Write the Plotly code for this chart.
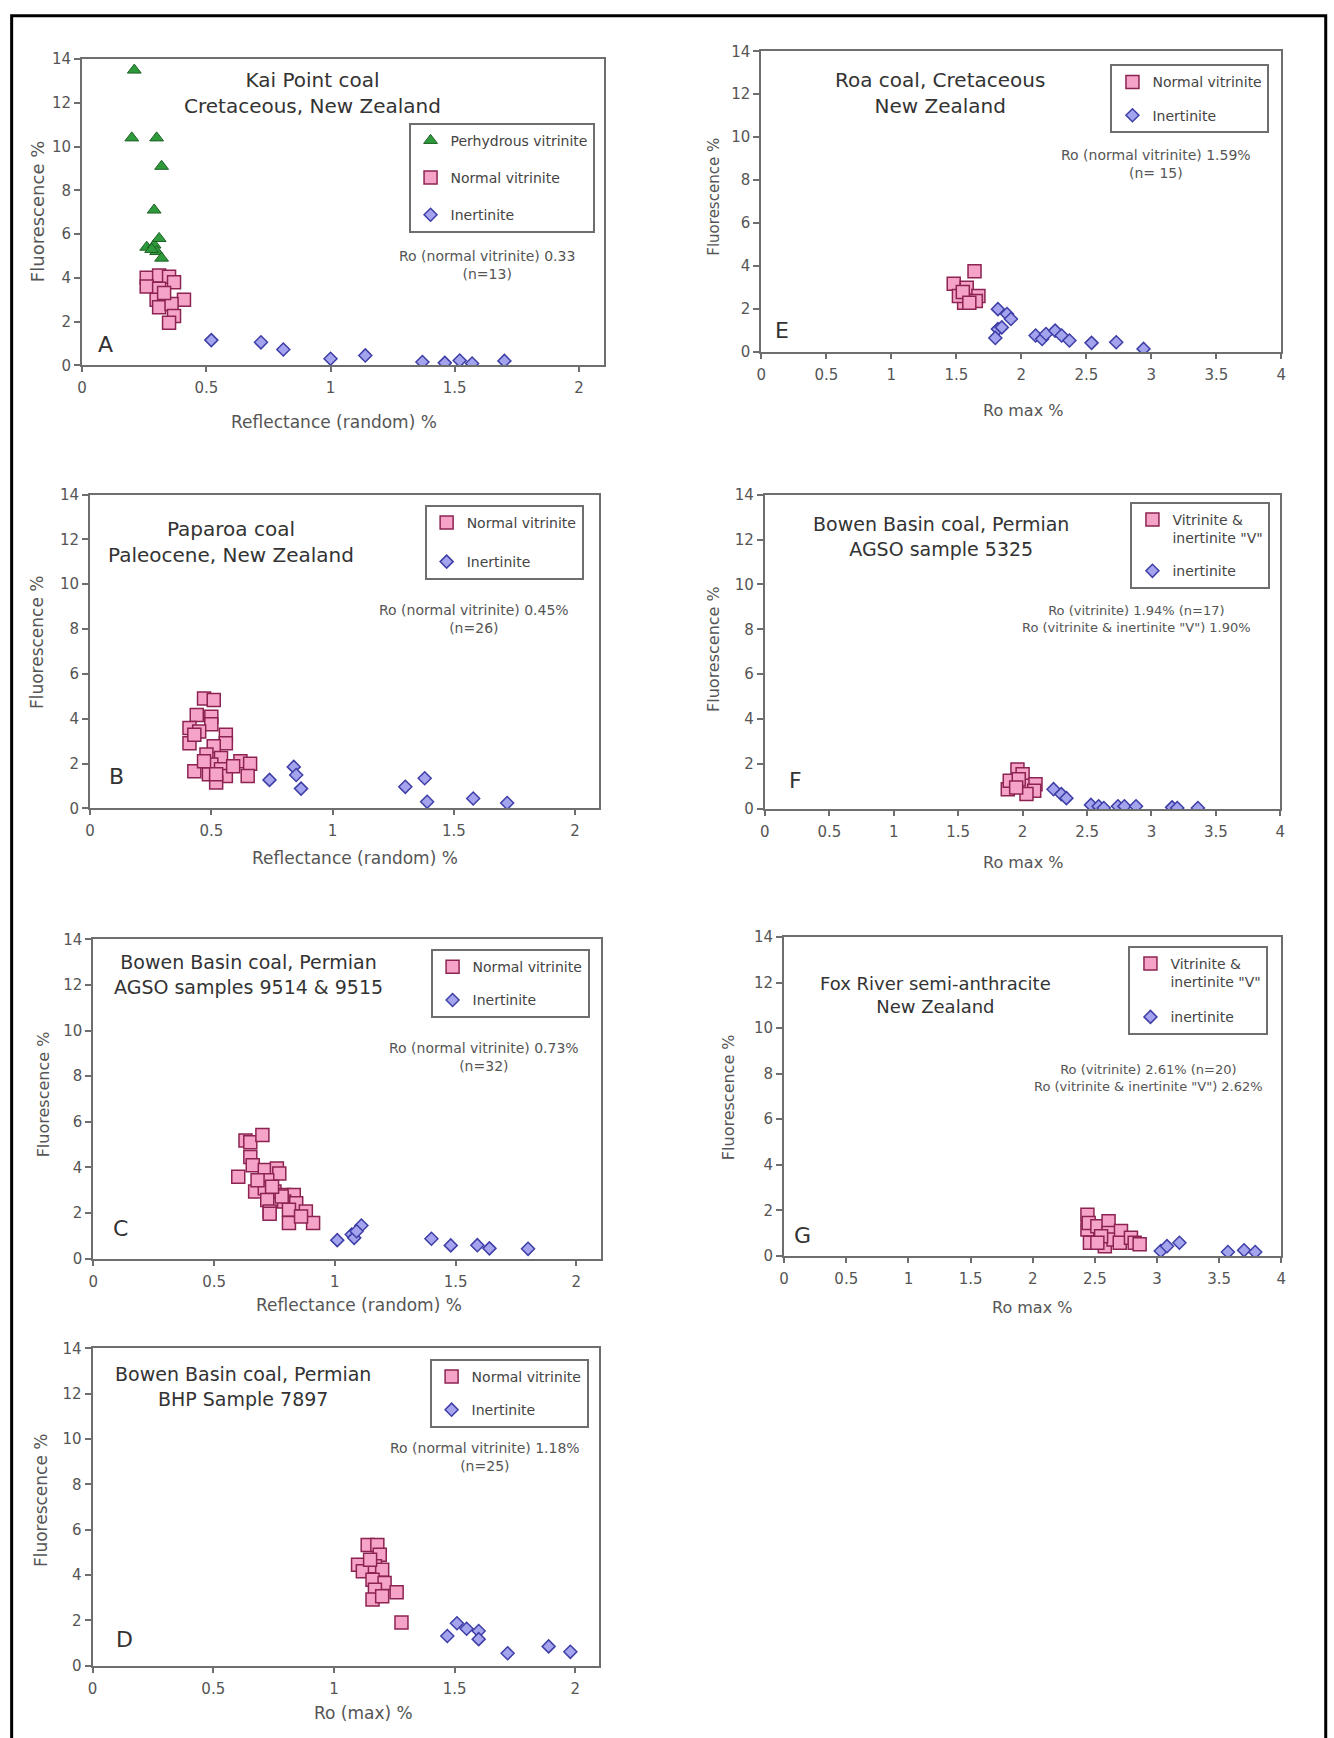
import plotly.graph_objects as go

W, H = 1334, 1738
FONT = "DejaVu Sans"

# ---------------- data ----------------
A_perhydrous_x = [0.21, 0.20, 0.30, 0.32, 0.29, 0.26, 0.29, 0.31, 0.30, 0.32, 0.28]
A_perhydrous_y = [13.5, 10.4, 10.4, 9.1, 7.1, 5.4, 5.5, 5.8, 5.2, 4.9, 5.3]
A_normal_x = [0.26, 0.31, 0.35, 0.37, 0.26, 0.31, 0.30, 0.41, 0.31, 0.36, 0.37, 0.35, 0.33]
A_normal_y = [4.0, 4.1, 4.05, 3.8, 3.6, 3.5, 3.0, 3.0, 2.65, 2.8, 2.25, 1.95, 3.3]
A_inert_x = [0.52, 0.72, 0.81, 1.00, 1.14, 1.37, 1.46, 1.52, 1.57, 1.70]
A_inert_y = [1.15, 1.05, 0.72, 0.30, 0.45, 0.15, 0.11, 0.22, 0.08, 0.20]

B_normal_x = [0.47, 0.51, 0.44, 0.50, 0.41, 0.50, 0.45, 0.56, 0.41, 0.56, 0.51, 0.48, 0.54,
              0.62, 0.66, 0.43, 0.50, 0.54, 0.49, 0.56, 0.65, 0.52, 0.59, 0.47, 0.52, 0.43]
B_normal_y = [4.90, 4.83, 4.17, 4.09, 3.58, 3.75, 3.43, 3.28, 2.91, 2.91, 2.77, 2.40, 2.25,
              2.10, 1.99, 1.66, 1.96, 1.74, 1.52, 1.44, 1.44, 1.15, 1.88, 2.10, 1.52, 3.28]
B_inert_x = [0.74, 0.84, 0.85, 0.87, 1.30, 1.38, 1.39, 1.58, 1.72]
B_inert_y = [1.27, 1.85, 1.49, 0.88, 0.96, 1.34, 0.29, 0.44, 0.24]

C_normal_x = [0.63, 0.65, 0.70, 0.65, 0.60, 0.66, 0.71, 0.76, 0.77, 0.72, 0.67, 0.71, 0.75, 0.79,
              0.83, 0.72, 0.79, 0.84, 0.73, 0.81, 0.88, 0.81, 0.91, 0.73, 0.78, 0.86, 0.68, 0.74]
C_normal_y = [5.18, 5.10, 5.42, 4.45, 3.59, 4.09, 3.88, 3.95, 3.73, 3.44, 2.94, 3.08, 2.94, 2.79,
              2.79, 2.57, 2.50, 2.43, 2.07, 2.14, 2.07, 1.56, 1.56, 1.97, 2.72, 1.85, 3.44, 3.15]
C_inert_x = [1.01, 1.07, 1.08, 1.11, 1.09, 1.40, 1.48, 1.59, 1.64, 1.80]
C_inert_y = [0.81, 1.06, 0.91, 1.45, 1.20, 0.87, 0.58, 0.59, 0.45, 0.43]

D_normal_x = [1.14, 1.18, 1.19, 1.10, 1.12, 1.17, 1.20, 1.16, 1.21, 1.17, 1.26, 1.16, 1.20, 1.28, 1.15]
D_normal_y = [5.32, 5.32, 4.89, 4.45, 4.16, 4.38, 4.23, 3.79, 3.65, 3.35, 3.24, 2.92, 3.06, 1.90, 4.67]
D_inert_x = [1.47, 1.51, 1.55, 1.60, 1.60, 1.72, 1.89, 1.98]
D_inert_y = [1.31, 1.87, 1.63, 1.53, 1.17, 0.55, 0.85, 0.61]

E_normal_x = [1.48, 1.64, 1.58, 1.67, 1.56, 1.52, 1.65, 1.55, 1.60]
E_normal_y = [3.18, 3.76, 2.99, 2.61, 2.30, 2.61, 2.38, 2.80, 2.30]
E_inert_x = [1.82, 1.89, 1.92, 1.82, 1.80, 1.85, 2.11, 2.16, 2.19, 2.26, 2.31, 2.37, 2.54, 2.73, 2.94]
E_inert_y = [2.00, 1.77, 1.54, 1.07, 0.66, 1.15, 0.77, 0.61, 0.84, 1.00, 0.77, 0.54, 0.43, 0.46, 0.15]

F_vit_x = [1.96, 1.885, 1.90, 2.00, 2.02, 2.10, 2.09, 2.03, 1.97, 1.95]
F_vit_y = [1.76, 0.88, 1.25, 1.54, 1.03, 1.10, 0.81, 0.66, 1.32, 0.95]
F_inert_x = [2.24, 2.30, 2.34, 2.53, 2.59, 2.63, 2.74, 2.79, 2.88, 3.16, 3.20, 3.36]
F_inert_y = [0.88, 0.66, 0.48, 0.18, 0.12, 0.04, 0.12, 0.12, 0.12, 0.07, 0.04, 0.04]

G_vit_x = [2.44, 2.44, 2.45, 2.46, 2.52, 2.58, 2.61, 2.61, 2.65, 2.71, 2.70, 2.79, 2.82, 2.86, 2.55, 2.52]
G_vit_y = [1.81, 1.16, 1.45, 0.58, 1.30, 0.43, 1.52, 1.01, 0.72, 1.09, 0.58, 0.80, 0.58, 0.51, 0.87, 0.58]
G_inert_x = [3.03, 3.08, 3.18, 3.57, 3.70, 3.79]
G_inert_y = [0.22, 0.43, 0.58, 0.17, 0.25, 0.17]

Y_TICKS = [0, 2, 4, 6, 8, 10, 12, 14]
X_TICKS_2 = [0, 0.5, 1, 1.5, 2]
X_TICKS_4 = [0, 0.5, 1, 1.5, 2, 2.5, 3, 3.5, 4]

# ---------------- styles ----------------
SQ = dict(symbol="square", size=13, color="#f5a3c6", line=dict(color="#8c2352", width=1.5))
DI = dict(symbol="diamond", size=10, color="#a3a3ee", line=dict(color="#3e3ea6", width=1.5))
TR = dict(symbol="triangle-up", size=12, color="#2f9a3c", line=dict(color="#1d5f24", width=1))

def px_x(v):
    return v / W

def px_y(v):
    return 1 - v / H

panels = [
    dict(key="A", box=(77.7, 50.7, 603.3, 360.0), xmax=2.1, xt=X_TICKS_2,
         series=[("Perhydrous vitrinite", A_perhydrous_x, A_perhydrous_y, TR),
                 ("Normal vitrinite", A_normal_x, A_normal_y, SQ),
                 ("Inertinite", A_inert_x, A_inert_y, DI)],
         legend=(594, 115), gap=16,
         title=("Kai Point coal<br>Cretaceous, New Zealand", 310, 84.5, 20),
         ro=("Ro (normal vitrinite) 0.33<br>(n=13)", 486, 258.5, 14),
         letter=(101, 339), xtitle=("Reflectance (random) %", 331, 417, 17),
         ytitle=(33.5, 205, 18)),
    dict(key="B", box=(85.7, 490.7, 598.8, 807.7), xmax=2.1, xt=X_TICKS_2,
         series=[("Normal vitrinite", B_normal_x, B_normal_y, SQ),
                 ("Inertinite", B_inert_x, B_inert_y, DI)],
         legend=(583, 501), gap=18,
         title=("Paparoa coal<br>Paleocene, New Zealand", 228, 539, 20),
         ro=("Ro (normal vitrinite) 0.45%<br>(n=26)", 473, 616, 14),
         letter=(112, 776), xtitle=("Reflectance (random) %", 353, 858, 17),
         ytitle=(33, 640, 17)),
    dict(key="C", box=(89.0, 940.0, 600.0, 1262.7), xmax=2.1, xt=X_TICKS_2,
         series=[("Normal vitrinite", C_normal_x, C_normal_y, SQ),
                 ("Inertinite", C_inert_x, C_inert_y, DI)],
         legend=(589, 950), gap=12,
         title=("Bowen Basin coal, Permian<br>AGSO samples 9514 & 9515", 245, 976, 19),
         ro=("Ro (normal vitrinite) 0.73%<br>(n=32)", 483, 1058.5, 14),
         letter=(116, 1232), xtitle=("Reflectance (random) %", 357, 1310, 17),
         ytitle=(39, 1097, 16)),
    dict(key="D", box=(88.3, 1353.3, 598.8, 1674.0), xmax=2.1, xt=X_TICKS_2,
         series=[("Normal vitrinite", D_normal_x, D_normal_y, SQ),
                 ("Inertinite", D_inert_x, D_inert_y, DI)],
         legend=(588, 1364), gap=12,
         title=("Bowen Basin coal, Permian<br>BHP Sample 7897", 240, 1392, 19),
         ro=("Ro (normal vitrinite) 1.18%<br>(n=25)", 484, 1463.5, 14),
         letter=(120, 1648), xtitle=("Ro (max) %", 361, 1722, 17),
         ytitle=(37, 1507, 17)),
    dict(key="E", box=(762.0, 42.7, 1286.0, 346.7), xmax=4.0, xt=X_TICKS_4,
         series=[("Normal vitrinite", E_normal_x, E_normal_y, SQ),
                 ("Inertinite", E_inert_x, E_inert_y, DI)],
         legend=(1274, 56), gap=12,
         title=("Roa coal, Cretaceous<br>New Zealand", 942, 85, 20),
         ro=("Ro (normal vitrinite) 1.59%<br>(n= 15)", 1160, 156.5, 14),
         letter=(783, 325), xtitle=("Ro max %", 1026, 406, 16),
         ytitle=(714, 190, 15)),
    dict(key="F", box=(765.6, 490.7, 1285.0, 808.3), xmax=4.0, xt=X_TICKS_4,
         series=[("Vitrinite &<br>inertinite \"V\"", F_vit_x, F_vit_y, SQ),
                 ("inertinite", F_inert_x, F_inert_y, DI)],
         legend=(1275, 498), gap=12,
         title=("Bowen Basin coal, Permian<br>AGSO sample 5325", 943, 533, 19),
         ro=("Ro (vitrinite) 1.94% (n=17)<br>Ro (vitrinite & inertinite \"V\") 1.90%", 1140, 616.5, 13),
         letter=(796, 780), xtitle=("Ro max %", 1026, 862, 16),
         ytitle=(714, 647, 16)),
    dict(key="G", box=(785.0, 937.7, 1286.0, 1260.0), xmax=4.0, xt=X_TICKS_4,
         series=[("Vitrinite &<br>inertinite \"V\"", G_vit_x, G_vit_y, SQ),
                 ("inertinite", G_inert_x, G_inert_y, DI)],
         legend=(1273, 946.7), gap=14,
         title=("Fox River semi-anthracite<br>New Zealand", 938, 996, 18),
         ro=("Ro (vitrinite) 2.61% (n=20)<br>Ro (vitrinite & inertinite \"V\") 2.62%", 1152, 1080, 13),
         letter=(803.5, 1239), xtitle=("Ro max %", 1035, 1312, 16),
         ytitle=(729, 1100, 16)),
]

fig = go.Figure()
annotations = []
layout_updates = {}

AX_COLOR = "#6e6e6e"
TICK_FONT = dict(family=FONT, size=15, color="#555555")

for i, p in enumerate(panels, start=1):
    sfx = "" if i == 1 else str(i)
    lg = "legend" if i == 1 else f"legend{i}"
    x0, y0, x1, y1 = p["box"]
    for j, (name, xs, ys, mk) in enumerate(p["series"]):
        fig.add_trace(go.Scatter(
            x=xs, y=ys, mode="markers", name=name, marker=mk,
            xaxis="x" + sfx, yaxis="y" + sfx, legend=lg,
            legendgroup=f"{p['key']}{j}", showlegend=True))
    layout_updates["xaxis" + sfx] = dict(
        domain=[px_x(x0), px_x(x1)], range=[0, p["xmax"]], anchor="y" + sfx,
        tickvals=p["xt"], ticktext=[("%g" % v) for v in p["xt"]],
        showgrid=False, zeroline=False, showline=True, mirror=True,
        linecolor=AX_COLOR, linewidth=2, ticks="outside", ticklen=5,
        tickcolor=AX_COLOR, tickwidth=1.5, tickfont=TICK_FONT, fixedrange=True,
        ticklabelstandoff=3)
    layout_updates["yaxis" + sfx] = dict(
        domain=[px_y(y1), px_y(y0)], range=[0, 14], anchor="x" + sfx,
        tickvals=Y_TICKS, showgrid=False, zeroline=False, showline=True, mirror=True,
        linecolor=AX_COLOR, linewidth=2, ticks="outside", ticklen=6,
        tickcolor=AX_COLOR, tickwidth=1.5, tickfont=TICK_FONT, fixedrange=True)
    lx, ly = p["legend"]
    layout_updates[lg] = dict(
        x=px_x(lx), y=px_y(ly), xanchor="right", yanchor="top",
        xref="paper", yref="paper", bgcolor="white", bordercolor=AX_COLOR,
        borderwidth=2, font=dict(family=FONT, size=14, color="#444444"),
        traceorder="grouped", tracegroupgap=p["gap"], valign="top", itemsizing="trace")

    t, tx, ty, ts = p["title"]
    annotations.append(dict(text=t, x=px_x(tx), y=px_y(ty), xref="paper", yref="paper",
                            showarrow=False, xanchor="center", yanchor="middle",
                            font=dict(family=FONT, size=ts, color="#333333")))
    t, tx, ty, ts = p["ro"]
    annotations.append(dict(text=t, x=px_x(tx), y=px_y(ty), xref="paper", yref="paper",
                            showarrow=False, xanchor="center", yanchor="middle",
                            font=dict(family=FONT, size=ts, color="#555555")))
    lx2, ly2 = p["letter"]
    annotations.append(dict(text=p["key"], x=px_x(lx2), y=px_y(ly2), xref="paper", yref="paper",
                            showarrow=False, xanchor="center", yanchor="middle",
                            font=dict(family=FONT, size=22, color="#333333")))
    t, tx, ty, ts = p["xtitle"]
    annotations.append(dict(text=t, x=px_x(tx), y=px_y(ty), xref="paper", yref="paper",
                            showarrow=False, xanchor="center", yanchor="middle",
                            font=dict(family=FONT, size=ts, color="#555555")))
    tx, ty, ts = p["ytitle"]
    annotations.append(dict(text="Fluorescence %", x=px_x(tx), y=px_y(ty), xref="paper",
                            yref="paper", showarrow=False, textangle=-90,
                            xanchor="center", yanchor="middle",
                            font=dict(family=FONT, size=ts, color="#555555")))

fig.update_layout(**layout_updates)
fig.update_layout(
    width=W, height=H, autosize=False,
    margin=dict(l=0, r=0, t=0, b=0),
    paper_bgcolor="white", plot_bgcolor="white",
    font=dict(family=FONT, color="#444444"),
    annotations=annotations,
    shapes=[dict(type="rect", xref="paper", yref="paper",
                 x0=px_x(6.7), x1=px_x(1330.7), y0=px_y(1750), y1=px_y(6.7),
                 line=dict(color="black", width=3), fillcolor="rgba(0,0,0,0)")],
)

fig.write_html("out.html")
